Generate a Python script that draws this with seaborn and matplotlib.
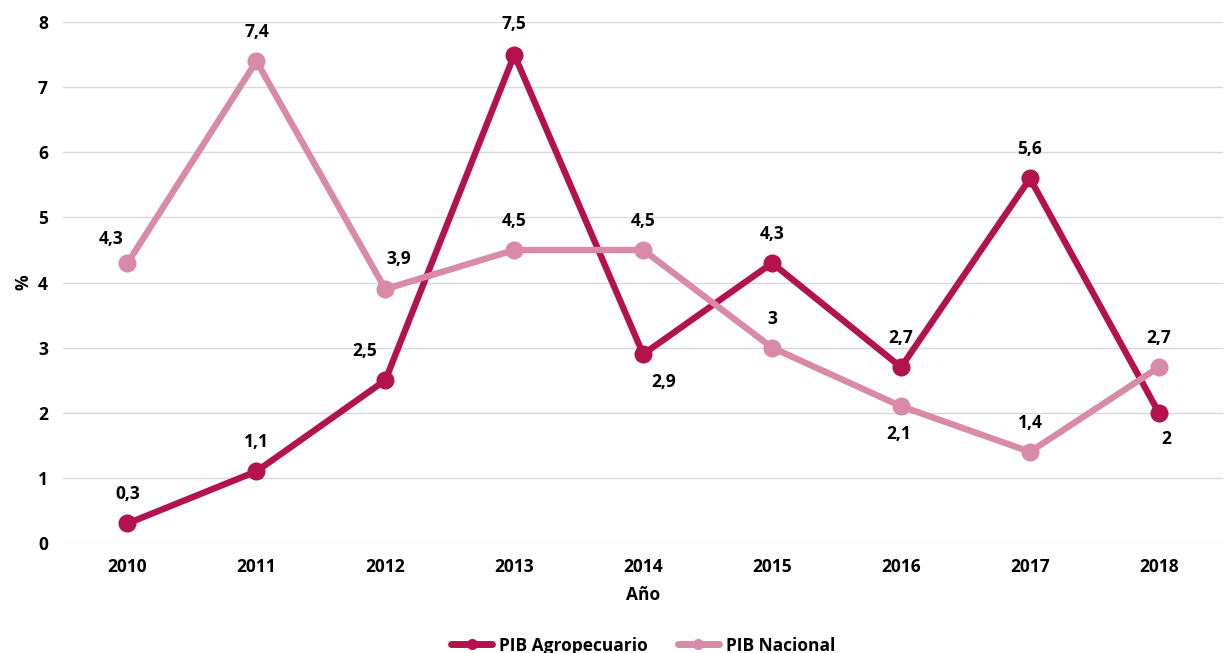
import matplotlib
matplotlib.use('Agg')
import matplotlib.pyplot as plt
import seaborn as sns
import pandas as pd

years = ['2010', '2011', '2012', '2013', '2014', '2015', '2016', '2017', '2018']
pib_agro = [0.3, 1.1, 2.5, 7.5, 2.9, 4.3, 2.7, 5.6, 2.0]
pib_nacional = [4.3, 7.4, 3.9, 4.5, 4.5, 3.0, 2.1, 1.4, 2.7]
series_names = ['PIB Agropecuario', 'PIB Nacional']

# label offsets in points (dx, dy)
agro_offsets = [(0, 21), (0, 21), (-15, 21), (0, 22), (15, -20), (0, 21), (0, 21), (0, 21), (5, -19)]
nac_offsets = [(-12, 17), (0, 21), (10, 22), (0, 21), (0, 21), (0, 21), (-2, -20), (0, 21), (0, 21)]

colors = {'PIB Agropecuario': '#B3124F', 'PIB Nacional': '#D98AA8'}


def fmt(v):
    s = ('%g' % v).replace('.', ',')
    return s


def main():
    sns.set_style('white')
    plt.rcParams['font.family'] = ['Open Sans', 'DejaVu Sans']
    plt.rcParams['font.weight'] = 'bold'
    plt.rcParams['text.color'] = 'black'
    plt.rcParams['axes.labelcolor'] = 'black'
    plt.rcParams['xtick.color'] = 'black'
    plt.rcParams['ytick.color'] = 'black'

    df = pd.DataFrame({
        'Año': years * 2,
        'valor': pib_agro + pib_nacional,
        'serie': [series_names[0]] * len(years) + [series_names[1]] * len(years),
    })

    fig = plt.figure(figsize=(12.24, 6.53), dpi=100)
    ax = fig.add_axes([0.0515, 0.1685, 0.948, 0.7975])

    sns.lineplot(data=df, x='Año', y='valor', hue='serie', palette=colors,
                 marker='o', markersize=13, markeredgewidth=0, linewidth=4.6,
                 ax=ax, legend=True, sort=False)

    for vals, offs, name in [(pib_agro, agro_offsets, series_names[0]),
                             (pib_nacional, nac_offsets, series_names[1])]:
        for i, (v, off) in enumerate(zip(vals, offs)):
            ax.annotate(fmt(v), (i, v), xytext=off, textcoords='offset points',
                        ha='center', va='center', fontsize=12.5, fontweight='bold',
                        color='black')

    ax.set_xlim(-0.5, 8.5)
    ax.set_ylim(0, 8)
    ax.set_yticks(range(0, 9))
    ax.yaxis.grid(True, color='#d9d9d9', linewidth=1)
    ax.xaxis.grid(False)
    for s in ax.spines.values():
        s.set_visible(False)
    ax.tick_params(axis='both', length=0, labelsize=12.5, pad=11)
    for lab in ax.get_xticklabels() + ax.get_yticklabels():
        lab.set_fontweight('bold')
    ax.set_xlabel('Año', fontsize=12.5, fontweight='bold', labelpad=7)
    ax.set_ylabel('%', fontsize=12.5, fontweight='bold', labelpad=4)

    handles, labels = ax.get_legend_handles_labels()
    for h in handles:
        h.set_markersize(8)
        h.set_linewidth(5)
    ax.legend(handles, labels, loc='center', bbox_to_anchor=(0.5, -0.197),
              ncol=2, frameon=False, handlelength=2.4,
              columnspacing=1.7, handletextpad=0.4,
              prop={'weight': 'bold', 'size': 12.5})

    plt.savefig('out.png', dpi=100)


if __name__ == '__main__':
    main()
